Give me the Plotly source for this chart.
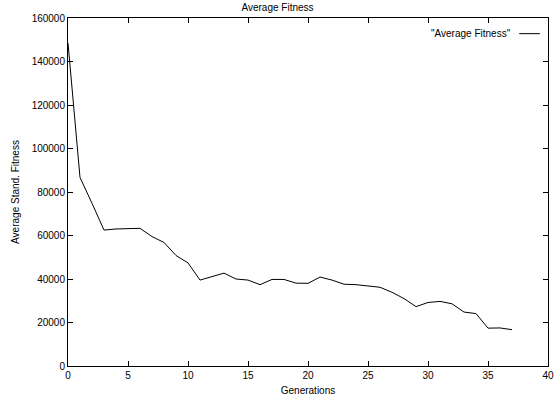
import plotly.graph_objects as go

generations = list(range(38))
avg_fitness = [148500, 86700, 74800, 62500, 63000, 63200, 63300, 59500, 56800, 50800,
               47400, 39500, 41000, 42700, 40000, 39500, 37400, 39800, 39800, 38100,
               38000, 40900, 39500, 37600, 37400, 36900, 36200, 33900, 31000, 27300,
               29200, 29700, 28600, 24800, 24100, 17400, 17500, 16700]

x_ticks = [0, 5, 10, 15, 20, 25, 30, 35, 40]
y_ticks = [0, 20000, 40000, 60000, 80000, 100000, 120000, 140000, 160000]

FONT = "Liberation Sans, Arial, Helvetica, sans-serif"
FS = 10

fig = go.Figure()
fig.add_trace(go.Scatter(x=generations, y=avg_fitness, mode="lines",
                         line=dict(color="black", width=1), showlegend=False,
                         name='"Average Fitness"'))

axis_common = dict(showline=True, linecolor="black", linewidth=1, mirror="allticks",
                   ticks="inside", ticklen=5, tickcolor="black", tickwidth=1,
                   showgrid=False, zeroline=False, automargin=False,
                   tickfont=dict(family=FONT, size=FS, color="black"))

fig.update_xaxes(range=[0, 40], tickvals=x_ticks, ticktext=[str(v) for v in x_ticks],
                 title=dict(text="Generations", font=dict(family=FONT, size=FS, color="black"), standoff=7),
                 **axis_common)
fig.update_yaxes(range=[0, 160000], tickvals=y_ticks, ticktext=[str(v) for v in y_ticks],
                 title=dict(text="Average Stand. Fitness", font=dict(family=FONT, size=FS, color="black"), standoff=10),
                 **axis_common)

fig.add_annotation(text='"Average Fitness"', xref="paper", yref="paper", x=0.928, y=0.955,
                   xanchor="right", yanchor="middle", showarrow=False,
                   font=dict(family=FONT, size=FS, color="black"))
fig.add_shape(type="line", xref="paper", yref="paper", x0=0.94, x1=0.983, y0=0.955, y1=0.955,
              line=dict(color="black", width=1))

fig.update_layout(
    width=555, height=396,
    margin=dict(l=68, r=7, t=18, b=30),
    paper_bgcolor="white", plot_bgcolor="white",
    title=dict(text="Average Fitness", x=0.5, xanchor="center", y=0.99, yanchor="top",
               font=dict(family=FONT, size=FS, color="black")),
    font=dict(family=FONT, size=FS, color="black"),
)

fig.write_html("out.html", config={"displayModeBar": False},
               post_script="document.body.style.margin='0';document.body.style.padding='0';")
